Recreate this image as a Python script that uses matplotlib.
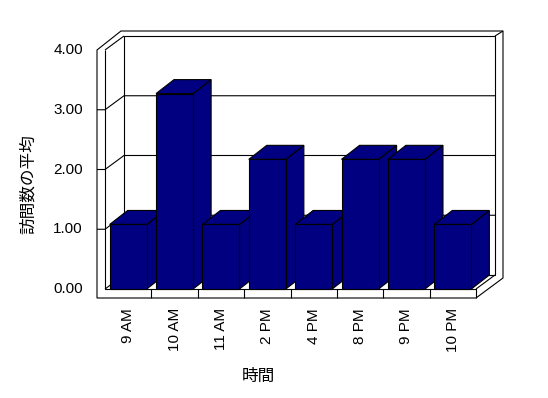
import numpy as np
import matplotlib
matplotlib.use('Agg')
import matplotlib.pyplot as plt
from matplotlib.patches import Polygon
from matplotlib.transforms import Affine2D, IdentityTransform

# data
hours = ['9 AM', '10 AM', '11 AM', '2 PM', '4 PM', '8 PM', '9 PM', '10 PM']
avg_visits = [1.08, 3.27, 1.08, 2.17, 1.08, 2.17, 2.17, 1.08]
y_ticks = [0, 1, 2, 3, 4]
y_tick_labels = ['0.00', '1.00', '2.00', '3.00', '4.00']

plt.rcParams['font.family'] = ['Liberation Sans', 'Noto Sans CJK JP', 'DejaVu Sans']

W, H = 548, 398
fig = plt.figure(figsize=(W / 100, H / 100), dpi=100)
fig.patch.set_facecolor('white')

# front plane of the pseudo-3D box (pixel based placement)
ax = fig.add_axes([105 / W, 109 / H, 371 / W, 239 / H])
x0, x1 = -0.5, len(hours) - 0.5
y0, y1 = 0, 4
ax.set_xlim(x0, x1)
ax.set_ylim(y0, y1)
ax.axis('off')

D = np.array([19, 14])        # depth of the box in pixels
BD = np.array([18, 14])       # depth of each bar
bar_w = 0.8
navy = '#000080'
ident = IdentityTransform()


def F(x, y, off=(0, 0)):
    return ax.transData.transform((x, y)) + np.asarray(off)


def offset(dx, dy):
    return ax.transData + Affine2D().translate(dx, dy)


def poly(pts, fc, z):
    ax.add_patch(Polygon(np.array(pts), closed=True, facecolor=fc, edgecolor='black',
                         linewidth=0.8, transform=ident, clip_on=False, zorder=z))


def line(pts, z=1.5):
    pts = np.array(pts)
    ax.plot(pts[:, 0], pts[:, 1], color='black', linewidth=0.8, transform=ident,
            clip_on=False, zorder=z, solid_capstyle='butt')


# box silhouette (walls + floor)
A = F(x0, y1, (-8, 0))
B = F(x0, y1, (16, 19))
C = F(x1, y1, (27, 19))
E = F(x1, y0, (27, 11))
G = F(x1, y0, (0, -9))
Hc = F(x0, y0, (-8, -9))
poly([A, B, C, E, G, Hc], 'white', 1)

# inner edges
line([F(x0, y1), F(x0, y0), F(x1, y0), G])
line([F(x0, y1), F(x0, y1, D)])
line([F(x0, y0, D), F(x0, y1, D), F(x1, y1, D), F(x1, y0, D), F(x0, y0, D)])
line([F(x1, y1, D), C])
line([F(x1, y0), F(x1, y0, D)])
line([F(x0, y0), F(x0, y0, D)])

# gridlines on left and back walls + ticks
for v in y_ticks[1:-1]:
    line([F(x0, v, (-8, 0)), F(x0, v), F(x0, v, D), F(x1, v, D)])

# category ticks on the floor front
for i in range(len(hours) - 1):
    line([F(i + 0.5, 0), F(i + 0.5, 0, (0, -9))])

# bars: front faces through ax.bar, side/top faces from the same values
xs = np.arange(len(hours))
bars = ax.bar(xs, avg_visits, width=bar_w, color=navy, edgecolor='black',
              linewidth=0.8, clip_on=False)
for i, (rect, v) in enumerate(zip(bars, avg_visits)):
    z = 3 + 2 * i
    rect.set_zorder(z + 1)
    xl, xr = i - bar_w / 2, i + bar_w / 2
    poly([F(xr, 0), F(xr, v), F(xr, v, BD), F(xr, 0, BD)], navy, z)
    poly([F(xl, v), F(xr, v), F(xr, v, BD), F(xl, v, BD)], navy, z)

# tick labels
for v, lab in zip(y_ticks, y_tick_labels):
    ax.text(x0, v, lab, ha='right', va='center', fontsize=11,
            transform=offset(-22, 0))
for i, lab in enumerate(hours):
    ax.text(i, 0, lab, ha='center', va='top', rotation=90, fontsize=11,
            transform=offset(0, -19))

fig.text(258 / W, 22 / H, '時間', ha='center', va='center', fontsize=12,
         family=['Noto Sans CJK JP', 'DejaVu Sans'])
fig.text(28 / W, 214 / H, '訪問数の平均', ha='center', va='center', rotation=90,
         fontsize=12, family=['Noto Sans CJK JP', 'DejaVu Sans'])

fig.savefig('out.png', dpi=100, facecolor='white')
